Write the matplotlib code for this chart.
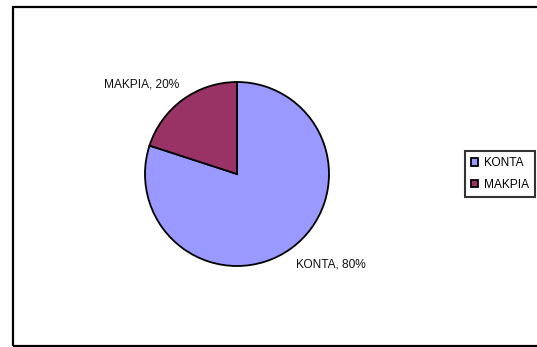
import numpy as np
import matplotlib
matplotlib.use("Agg")
import matplotlib.pyplot as plt
from matplotlib.patches import Rectangle

plt.rcParams["font.family"] = ["Liberation Sans", "DejaVu Sans"]

labels = ["ΚΟΝΤΑ", "ΜΑΚΡΙΑ"]
shares = [80, 20]
colors = ["#9999FF", "#993366"]

W, H = 537, 347
fig = plt.figure(figsize=(W / 100, H / 100), dpi=100)
ax = fig.add_axes([0, 0, 1, 1])

cx, cy, r = 237, H - 174, 92
wedges, _ = ax.pie(shares, colors=colors, startangle=90, counterclock=False,
                   center=(cx, cy), radius=r,
                   wedgeprops=dict(edgecolor="black", linewidth=1.3))
ax.set_xlim(0, W)
ax.set_ylim(0, H)
ax.set_aspect("equal")
ax.axis("off")

# data labels: angle offset and distance relative to wedge middle
label_pos = [(10, 1.42), (11, 1.42)]
for w, lab, val, (off, dist) in zip(wedges, labels, shares, label_pos):
    mid = np.deg2rad((w.theta1 + w.theta2) / 2 + off)
    ax.text(cx + dist * r * np.cos(mid), cy + dist * r * np.sin(mid),
            f"{lab}, {val}%", ha="center", va="center", fontsize=8.6,
            color="#111111")

leg = fig.legend(wedges, labels, loc="upper left",
                 bbox_to_anchor=(465 / W, 1 - 151 / H), fontsize=8.6,
                 frameon=True, fancybox=False, borderaxespad=0,
                 handlelength=0.6, handleheight=0.6, handletextpad=0.5,
                 borderpad=0.5, labelspacing=0.8)
leg.get_frame().set_edgecolor("black")
leg.get_frame().set_linewidth(1.5)

fig.patches.append(Rectangle((13 / W, 1 / H), 1.0, 1 - 8 / H,
                             transform=fig.transFigure, fill=False,
                             edgecolor="black", linewidth=1.6, clip_on=False))

fig.savefig("out.png", dpi=100)
